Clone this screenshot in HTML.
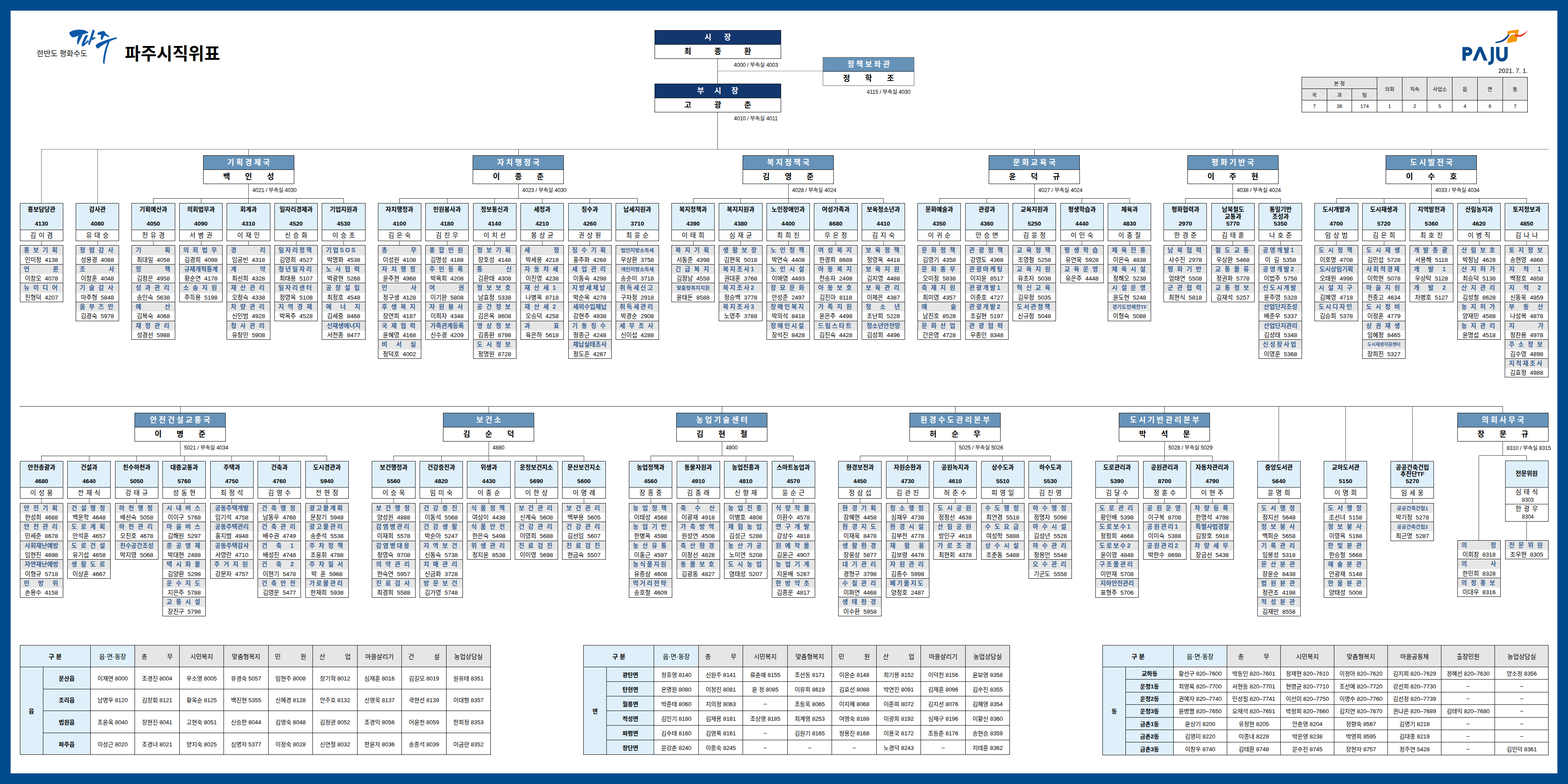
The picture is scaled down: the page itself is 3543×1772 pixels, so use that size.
<!DOCTYPE html><html lang="ko"><head><meta charset="utf-8"><title>파주시직위표</title><style>
html,body{margin:0;padding:0}
body{width:3543px;height:1772px;background:#004b8c;position:relative;overflow:hidden;font-family:"Liberation Sans","Noto Sans CJK KR",sans-serif;color:#000;font-size:13px}
#pg{position:absolute;left:24px;top:24px;width:3495px;height:1724px;background:#fff}
div{box-sizing:border-box}
.a,.l,.bu,.dp,.tb,.ph,svg{position:absolute}
.l{background:#444}
.bu{width:206px;height:65px;border:1px solid #111;background:#fff;overflow:hidden;text-align:center;line-height:31px;white-space:nowrap;font-size:17px;font-weight:bold}
.bu .h{height:32px;background:#6793b8;border-bottom:1px solid #111;color:#fff;letter-spacing:4.5px;padding-left:4.5px}
.bu div:last-child{letter-spacing:34px;padding-left:34px}
.bu.k div:last-child{letter-spacing:52px;padding-left:52px}
.bu.k .h{background:#12366e}
.bu.g{border-color:#666}
.ph{font-size:12px;line-height:14px;white-space:nowrap}
.dp{width:98.2px;height:85.2px;border:1px solid #1a1a1a;background:#fff;overflow:hidden;text-align:center;white-space:nowrap}
.dp .h{height:59.3px;background:#dff0fb;border-bottom:1px solid #1a1a1a;overflow:hidden;line-height:15.6px;padding-top:6px;font-size:13.6px;font-weight:bold}
.dp .c{height:24px;line-height:24px;font-size:14.4px;letter-spacing:5.6px;padding-left:5.6px}
.tb{width:98.2px;border:1px solid #1a1a1a;background:#fff;overflow:hidden;white-space:nowrap;line-height:21px;text-align:center}
.t{height:21.3px;background:#e6e6e6;color:#3a6191;font-size:13.8px;font-weight:bold}
.t2,.t3,.t4,.t5{text-align:left;padding-left:8px}
.t2{letter-spacing:53px}
.t3{letter-spacing:19.7px}
.t4{letter-spacing:8.5px}
.t5{letter-spacing:3px}
.s7{font-size:11.6px}
.s8{font-size:10.2px}
.p{height:21.3px;border-bottom:1px solid #1a1a1a;font-size:13.5px;word-spacing:4px}
.p:last-child{border-bottom:0}
table{position:absolute;border-collapse:collapse;table-layout:fixed;text-align:center;background:#fff}
td{border:1px solid #111;padding:0;overflow:hidden;white-space:nowrap;font-size:13px}
td.b{background:#dff0fb;font-weight:bold}
td.g{background:#e6e6e6;word-spacing:41px}
tr:first-child td{font-size:14px}
tr:first-child td.b+td.b{font-weight:normal}
table.sm tr td{font-size:11.5px;word-spacing:0}
</style></head><body><div id="pg"></div>
<svg style="left:0;top:0" width="700" height="200" viewBox="0 0 700 200"><text x="282" y="135" font-family="'Liberation Sans','Noto Sans CJK KR',sans-serif" font-size="39" font-weight="bold" fill="#000">파주시직위표</text><text x="83" y="127" font-family="'Liberation Sans','Noto Sans CJK KR',sans-serif" font-size="17" fill="#111">한반도 평화수도</text>
<g transform="translate(150,60) scale(.06988)" fill="#0b58a8"><path d="M100,190C150,140 280,100 420,100C560,100 680,140 715,205C700,218 660,215 620,230C560,250 480,270 400,295C330,320 260,352 210,350C170,340 130,290 100,240Z"/><path d="M400,288C370,350 345,430 345,520C345,560 360,588 382,580C400,520 440,440 500,330L530,262Z"/><path d="M630,270L705,290C655,380 595,500 548,640C522,650 495,630 488,600C518,480 575,360 630,270Z"/><path d="M540,640C600,592 665,540 728,478L700,436C640,500 580,550 515,600Z"/><path d="M850,100C880,98 910,120 915,150C880,260 820,420 752,595C730,602 710,585 705,560C760,400 810,230 850,100Z"/><path d="M835,362L955,340C930,382 890,422 825,445Z"/><path d="M1000,215C1060,170 1160,135 1220,150C1250,165 1265,200 1275,235C1320,260 1370,290 1385,320C1375,345 1350,350 1330,330C1290,300 1250,290 1215,300C1200,350 1180,410 1150,435C1125,430 1110,400 1110,360C1115,320 1130,280 1120,260C1080,265 1030,275 1010,260Z"/><path d="M950,620C960,580 1010,540 1090,510C1250,450 1450,380 1600,355C1630,355 1645,370 1640,390C1560,410 1480,440 1400,480C1300,530 1150,600 1020,715C990,710 960,670 950,620Z"/><path d="M1405,470C1335,650 1262,850 1232,1215C1215,1215 1195,1195 1185,1160C1190,950 1250,700 1335,505Z"/></g></svg>
<svg style="left:3290px;top:55px" width="180" height="100" viewBox="3290 55 180 100"><path d="M3406.5,70.5L3432,66.5L3427,93.5L3406,97.5Z" fill="#f39800"/><path d="M3379,96C3396,94 3404,86 3410,78C3416,72 3422,74 3428,78L3426,81C3420,77 3416,77 3412,82C3404,93 3395,98 3379,98Z" fill="#fff"/><path d="M3379,94.5C3394,93 3402,86 3409,77L3411,79C3404,91 3395,97 3379,97.5Z" fill="#0a4a8c"/><path d="M3423,76C3434,82 3442,78 3452,68C3446,80 3436,88 3422,80Z" fill="#e8452c"/><path d="M3327.6,137L3341,106h7L3361,137h-8.3L3344.4,116.5L3335.9,137Z" fill="#0a4a8c"/><g fill="none" stroke="#0a4a8c" stroke-width="7.6"><path d="M3308.3,137V110h8.5a6.3,6.3 0 0 1 0,12.6h-8.5"/><path d="M3372,106V136q0,7 -9,7.5" stroke-width="7"/><path d="M3384.3,106V126a9.3,9.3 0 0 0 18.6,0V106"/></g></svg>
<div class="a" style="left:3340px;top:152px;width:112px;text-align:right;font-size:14px;line-height:16px">2021. 7. 1.</div>
<table class="sm" style="left:2941px;top:174px;width:511px;height:79.5px"><colgroup><col style="width:56.7px"><col style="width:56.7px"><col style="width:56.7px"><col style="width:56.7px"><col style="width:56.7px"><col style="width:56.7px"><col style="width:56.7px"><col style="width:56.7px"><col style="width:56.7px"></colgroup><tr style="height:26px"><td class="g" colspan="3">본 청</td><td class="g" rowspan="2">의회</td><td class="g" rowspan="2">직속</td><td class="g" rowspan="2">사업소</td><td class="g" rowspan="2">읍</td><td class="g" rowspan="2">면</td><td class="g" rowspan="2">동</td></tr><tr style="height:26px"><td class="g">국</td><td class="g">과</td><td class="g">팀</td></tr><tr style="height:27px"><td>7</td><td>38</td><td>174</td><td>1</td><td>2</td><td>5</td><td>4</td><td>6</td><td>7</td></tr></table>
<div class="l" style="left:1620.9px;top:132px;width:1px;height:58px"></div>
<div class="l" style="left:1620.9px;top:253px;width:1px;height:84px"></div>
<div class="l" style="left:1621.4px;top:160.3px;width:238.6px;height:1px;background:#888"></div>
<div class="bu k" style="left:1479px;top:68px;width:285.5px"><div class="h" style="letter-spacing:28.7px;padding-left:28.7px">시장</div><div>최종환</div></div>
<div class="bu k" style="left:1479px;top:189px;width:285.5px"><div class="h" style="letter-spacing:23px;padding-left:23px">부시장</div><div>고광춘</div></div>
<div class="bu g" style="left:1859.3px;top:128.5px;width:206.5px"><div class="h">정책보좌관</div><div>정학조</div></div>
<div class="ph" style="left:1658.3px;top:140.1px">4000 / 부속실 4003</div>
<div class="ph" style="left:1658.3px;top:261.3px">4010 / 부속실 4011</div>
<div class="ph" style="left:1958.5px;top:200.7px">4115 / 부속실 4030</div>
<div class="l" style="left:93px;top:336.5px;width:3406px;height:1px;background:#777"></div>
<div class="l" style="left:93.3px;top:337px;width:1px;height:122.4px;background:#666"></div>
<div class="dp" style="left:44.7px;top:459.4px"><div class="h">홍보담당관<br><br>4130</div><div class="c">김이겸</div></div>
<div class="l" style="left:93.3px;top:544.4px;width:1px;height:10px"></div>
<div class="tb" style="left:44.7px;top:554.3px;height:128.8px"><div class="t t4">홍보기획</div><div class="p">인미정 4138</div><div class="t t2">언론</div><div class="p">이창오 4078</div><div class="t t4">뉴미디어</div><div class="p">진형덕 4207</div></div>
<div class="l" style="left:219.5px;top:337px;width:1px;height:122.4px;background:#666"></div>
<div class="dp" style="left:170.9px;top:459.4px"><div class="h">감사관<br><br>4080</div><div class="c">유대승</div></div>
<div class="l" style="left:219.5px;top:544.4px;width:1px;height:10px"></div>
<div class="tb" style="left:170.9px;top:554.3px;height:171.4px"><div class="t t4">청렴감사</div><div class="p">성용경 4088</div><div class="t t2">조사</div><div class="p">이창훈 4048</div><div class="t t4">기술감사</div><div class="p">마주형 5848</div><div class="t t4">옴부즈만</div><div class="p">김경숙 5978</div></div>
<div class="l" style="left:561.1px;top:337px;width:1px;height:14px"></div>
<div class="bu" style="left:458.6px;top:351px"><div class="h">기획경제국</div><div>백인성</div></div>
<div class="l" style="left:561.1px;top:415px;width:1px;height:33.1px"></div>
<div class="ph" style="left:570.4px;top:423px">4021 / 부속실 4030</div>
<div class="l" style="left:346.5px;top:447.6px;width:430px;height:1px;background:#333"></div>
<div class="l" style="left:346px;top:448.1px;width:1px;height:11.3px"></div>
<div class="dp" style="left:297.4px;top:459.4px"><div class="h">기획예산과<br><br>4050</div><div class="c">천유경</div></div>
<div class="l" style="left:346px;top:544.4px;width:1px;height:10px"></div>
<div class="tb" style="left:297.4px;top:554.3px;height:214px"><div class="t t2">기획</div><div class="p">최대일 4058</div><div class="t t2">정책</div><div class="p">김정은 4958</div><div class="t t4">성과관리</div><div class="p">송인숙 5638</div><div class="t t2">예산</div><div class="p">김복숙 4068</div><div class="t t4">재정관리</div><div class="p">성경선 5988</div></div>
<div class="l" style="left:453.5px;top:448.1px;width:1px;height:11.3px"></div>
<div class="dp" style="left:404.9px;top:459.4px"><div class="h">의회법무과<br><br>4090</div><div class="c">서병권</div></div>
<div class="l" style="left:453.5px;top:544.4px;width:1px;height:10px"></div>
<div class="tb" style="left:404.9px;top:554.3px;height:128.8px"><div class="t t4">의회법무</div><div class="p">김경희 4098</div><div class="t">규제개혁통계</div><div class="p">황순연 4178</div><div class="t t4">소송지원</div><div class="p">주득용 5198</div></div>
<div class="l" style="left:561px;top:448.1px;width:1px;height:11.3px"></div>
<div class="dp" style="left:512.4px;top:459.4px"><div class="h">회계과<br><br>4310</div><div class="c">이재인</div></div>
<div class="l" style="left:561px;top:544.4px;width:1px;height:10px"></div>
<div class="tb" style="left:512.4px;top:554.3px;height:214px"><div class="t t2">경리</div><div class="p">임공빈 4318</div><div class="t t2">계약</div><div class="p">최선희 4328</div><div class="t t4">재산관리</div><div class="p">오정숙 4338</div><div class="t t4">차량관리</div><div class="p">신인범 4928</div><div class="t t4">청사관리</div><div class="p">유창민 5908</div></div>
<div class="l" style="left:668.5px;top:448.1px;width:1px;height:11.3px"></div>
<div class="dp" style="left:619.9px;top:459.4px"><div class="h">일자리경제과<br><br>4520</div><div class="c">신승화</div></div>
<div class="l" style="left:668.5px;top:544.4px;width:1px;height:10px"></div>
<div class="tb" style="left:619.9px;top:554.3px;height:171.4px"><div class="t t5">일자리정책</div><div class="p">김영희 4527</div><div class="t t5">청년일자리</div><div class="p">최태용 5107</div><div class="t t5">일자리센터</div><div class="p">정영옥 5108</div><div class="t t4">지역경제</div><div class="p">박옥주 4528</div></div>
<div class="l" style="left:776px;top:448.1px;width:1px;height:11.3px"></div>
<div class="dp" style="left:727.4px;top:459.4px"><div class="h">기업지원과<br><br>4530</div><div class="c">이승조</div></div>
<div class="l" style="left:776px;top:544.4px;width:1px;height:10px"></div>
<div class="tb" style="left:727.4px;top:554.3px;height:214px"><div class="t t5">기업SOS</div><div class="p">박명화 4538</div><div class="t t4">노사협력</div><div class="p">박광현 5268</div><div class="t t4">공장설립</div><div class="p">최정호 4548</div><div class="t t3">에너지</div><div class="p">김세중 8468</div><div class="t">신재생에너지</div><div class="p">서천종 8477</div></div>
<div class="l" style="left:1170.8px;top:337px;width:1px;height:14px"></div>
<div class="bu" style="left:1068.3px;top:351px"><div class="h">자치행정국</div><div>이종춘</div></div>
<div class="l" style="left:1170.8px;top:415px;width:1px;height:33.1px"></div>
<div class="ph" style="left:1180.1px;top:423px">4023 / 부속실 4030</div>
<div class="l" style="left:902.6px;top:447.6px;width:537.5px;height:1px;background:#333"></div>
<div class="l" style="left:902.1px;top:448.1px;width:1px;height:11.3px"></div>
<div class="dp" style="left:853.5px;top:459.4px"><div class="h">자치행정과<br><br>4100</div><div class="c">김은숙</div></div>
<div class="l" style="left:902.1px;top:544.4px;width:1px;height:10px"></div>
<div class="tb" style="left:853.5px;top:554.3px;height:256.6px"><div class="t t2">총무</div><div class="p">이성원 4108</div><div class="t t4">자치행정</div><div class="p">윤주현 4968</div><div class="t t2">인사</div><div class="p">정구생 4128</div><div class="t t4">후생복지</div><div class="p">장연희 4187</div><div class="t t4">국제협력</div><div class="p">윤혜영 4168</div><div class="t t3">비서실</div><div class="p">정덕호 4002</div></div>
<div class="l" style="left:1009.6px;top:448.1px;width:1px;height:11.3px"></div>
<div class="dp" style="left:961px;top:459.4px"><div class="h">민원봉사과<br><br>4180</div><div class="c">김진우</div></div>
<div class="l" style="left:1009.6px;top:544.4px;width:1px;height:10px"></div>
<div class="tb" style="left:961px;top:554.3px;height:214px"><div class="t t4">종합민원</div><div class="p">김명성 4188</div><div class="t t4">주민등록</div><div class="p">박옥희 4208</div><div class="t t2">여권</div><div class="p">이기완 5808</div><div class="t t4">자원봉사</div><div class="p">이희자 4348</div><div class="t">가족관계등록</div><div class="p">신수경 4209</div></div>
<div class="l" style="left:1117.1px;top:448.1px;width:1px;height:11.3px"></div>
<div class="dp" style="left:1068.5px;top:459.4px"><div class="h">정보통신과<br><br>4140</div><div class="c">이치선</div></div>
<div class="l" style="left:1117.1px;top:544.4px;width:1px;height:10px"></div>
<div class="tb" style="left:1068.5px;top:554.3px;height:256.6px"><div class="t t4">정보기획</div><div class="p">장호성 4148</div><div class="t t2">통신</div><div class="p">김환태 4308</div><div class="t t4">정보보호</div><div class="p">남효정 5338</div><div class="t t4">공간정보</div><div class="p">김은옥 8608</div><div class="t t4">영상정보</div><div class="p">김종환 8798</div><div class="t t4">도시정보</div><div class="p">정명원 8728</div></div>
<div class="l" style="left:1224.6px;top:448.1px;width:1px;height:11.3px"></div>
<div class="dp" style="left:1176px;top:459.4px"><div class="h">세정과<br><br>4210</div><div class="c">봉상균</div></div>
<div class="l" style="left:1224.6px;top:544.4px;width:1px;height:10px"></div>
<div class="tb" style="left:1176px;top:554.3px;height:214px"><div class="t t2">세정</div><div class="p">박세용 4218</div><div class="t t4">자동차세</div><div class="p">이진영 4238</div><div class="t t4">재산세1</div><div class="p">나병옥 8718</div><div class="t t4">재산세2</div><div class="p">오승덕 4258</div><div class="t t2">과표</div><div class="p">육은하 5618</div></div>
<div class="l" style="left:1332.1px;top:448.1px;width:1px;height:11.3px"></div>
<div class="dp" style="left:1283.5px;top:459.4px"><div class="h">징수과<br><br>4260</div><div class="c">권상원</div></div>
<div class="l" style="left:1332.1px;top:544.4px;width:1px;height:10px"></div>
<div class="tb" style="left:1283.5px;top:554.3px;height:256.6px"><div class="t t4">징수기획</div><div class="p">홍주화 4268</div><div class="t t4">세입관리</div><div class="p">이동숙 4298</div><div class="t t5">지방세체납</div><div class="p">박순옥 4278</div><div class="t">세외수입체납</div><div class="p">강현주 4938</div><div class="t t4">기동징수</div><div class="p">정종근 4248</div><div class="t">체납실태조사</div><div class="p">정도흔 4267</div></div>
<div class="l" style="left:1439.6px;top:448.1px;width:1px;height:11.3px"></div>
<div class="dp" style="left:1391px;top:459.4px"><div class="h">납세지원과<br><br>3710</div><div class="c">최윤순</div></div>
<div class="l" style="left:1439.6px;top:544.4px;width:1px;height:10px"></div>
<div class="tb" style="left:1391px;top:554.3px;height:214px"><div class="t s7">법인지방소득세</div><div class="p">우상환 3758</div><div class="t s7">개인지방소득세</div><div class="p">송순미 3718</div><div class="t t5">취득세신고</div><div class="p">구자정 2918</div><div class="t t5">취득세관리</div><div class="p">박경순 2908</div><div class="t t4">세무조사</div><div class="p">신이섭 4288</div></div>
<div class="l" style="left:1780.5px;top:337px;width:1px;height:14px"></div>
<div class="bu" style="left:1678px;top:351px"><div class="h">복지정책국</div><div>김영준</div></div>
<div class="l" style="left:1780.5px;top:415px;width:1px;height:33.1px"></div>
<div class="ph" style="left:1789.8px;top:423px">4028 / 부속실 4024</div>
<div class="l" style="left:1566px;top:447.6px;width:430px;height:1px;background:#333"></div>
<div class="l" style="left:1565.5px;top:448.1px;width:1px;height:11.3px"></div>
<div class="dp" style="left:1516.9px;top:459.4px"><div class="h">복지정책과<br><br>4390</div><div class="c">이태희</div></div>
<div class="l" style="left:1565.5px;top:544.4px;width:1px;height:10px"></div>
<div class="tb" style="left:1516.9px;top:554.3px;height:128.8px"><div class="t t4">복지기획</div><div class="p">서동준 4398</div><div class="t t4">긴급복지</div><div class="p">김정남 4558</div><div class="t s7">맞춤형복지지원</div><div class="p">윤태돈 8588</div></div>
<div class="l" style="left:1673px;top:448.1px;width:1px;height:11.3px"></div>
<div class="dp" style="left:1624.4px;top:459.4px"><div class="h">복지지원과<br><br>4380</div><div class="c">심재균</div></div>
<div class="l" style="left:1673px;top:544.4px;width:1px;height:10px"></div>
<div class="tb" style="left:1624.4px;top:554.3px;height:171.4px"><div class="t t4">생활보장</div><div class="p">김현욱 5018</div><div class="t t5">복지조사1</div><div class="p">권대훈 3768</div><div class="t t5">복지조사2</div><div class="p">정승백 3778</div><div class="t t5">복지조사3</div><div class="p">노영주 3788</div></div>
<div class="l" style="left:1780.5px;top:448.1px;width:1px;height:11.3px"></div>
<div class="dp" style="left:1731.9px;top:459.4px"><div class="h">노인장애인과<br><br>4400</div><div class="c">최희진</div></div>
<div class="l" style="left:1780.5px;top:544.4px;width:1px;height:10px"></div>
<div class="tb" style="left:1731.9px;top:554.3px;height:214px"><div class="t t4">노인정책</div><div class="p">박연숙 4408</div><div class="t t4">노인시설</div><div class="p">이애영 4493</div><div class="t t4">장묘문화</div><div class="p">안성준 2497</div><div class="t t5">장애인복지</div><div class="p">박의석 8418</div><div class="t t5">장애인시설</div><div class="p">장석진 8428</div></div>
<div class="l" style="left:1888px;top:448.1px;width:1px;height:11.3px"></div>
<div class="dp" style="left:1839.4px;top:459.4px"><div class="h">여성가족과<br><br>8680</div><div class="c">우은정</div></div>
<div class="l" style="left:1888px;top:544.4px;width:1px;height:10px"></div>
<div class="tb" style="left:1839.4px;top:554.3px;height:214px"><div class="t t4">여성복지</div><div class="p">한경희 8688</div><div class="t t4">아동복지</div><div class="p">전송자 2498</div><div class="t t4">아동보호</div><div class="p">김진아 8118</div><div class="t t4">가족지원</div><div class="p">윤은주 4498</div><div class="t t5">드림스타트</div><div class="p">김진숙 4428</div></div>
<div class="l" style="left:1995.5px;top:448.1px;width:1px;height:11.3px"></div>
<div class="dp" style="left:1946.9px;top:459.4px"><div class="h">보육청소년과<br><br>4410</div><div class="c">김지숙</div></div>
<div class="l" style="left:1995.5px;top:544.4px;width:1px;height:10px"></div>
<div class="tb" style="left:1946.9px;top:554.3px;height:214px"><div class="t t4">보육정책</div><div class="p">정영옥 4418</div><div class="t t4">보육지원</div><div class="p">김지영 4488</div><div class="t t4">보육관리</div><div class="p">이제은 4387</div><div class="t t3">청소년</div><div class="p">조난희 5228</div><div class="t">청소년안전망</div><div class="p">김성희 4496</div></div>
<div class="l" style="left:2336.7px;top:337px;width:1px;height:14px"></div>
<div class="bu" style="left:2234.2px;top:351px"><div class="h">문화교육국</div><div>윤덕규</div></div>
<div class="l" style="left:2336.7px;top:415px;width:1px;height:33.1px"></div>
<div class="ph" style="left:2346px;top:423px">4027 / 부속실 4024</div>
<div class="l" style="left:2122.3px;top:447.6px;width:430px;height:1px;background:#333"></div>
<div class="l" style="left:2121.8px;top:448.1px;width:1px;height:11.3px"></div>
<div class="dp" style="left:2073.2px;top:459.4px"><div class="h">문화예술과<br><br>4350</div><div class="c">이귀순</div></div>
<div class="l" style="left:2121.8px;top:544.4px;width:1px;height:10px"></div>
<div class="tb" style="left:2073.2px;top:554.3px;height:214px"><div class="t t4">문화정책</div><div class="p">김영기 4358</div><div class="t t4">문화종무</div><div class="p">오미정 5838</div><div class="t t4">축제지원</div><div class="p">최미영 4357</div><div class="t t2">예술</div><div class="p">남진호 8528</div><div class="t t4">문화산업</div><div class="p">간은영 4728</div></div>
<div class="l" style="left:2229.3px;top:448.1px;width:1px;height:11.3px"></div>
<div class="dp" style="left:2180.7px;top:459.4px"><div class="h">관광과<br><br>4360</div><div class="c">안승면</div></div>
<div class="l" style="left:2229.3px;top:544.4px;width:1px;height:10px"></div>
<div class="tb" style="left:2180.7px;top:554.3px;height:214px"><div class="t t4">관광정책</div><div class="p">강영도 4368</div><div class="t t5">관광마케팅</div><div class="p">이지윤 8517</div><div class="t t5">관광개발1</div><div class="p">이종호 4727</div><div class="t t5">관광개발2</div><div class="p">조길현 5197</div><div class="t t4">관광협력</div><div class="p">우종인 8348</div></div>
<div class="l" style="left:2336.8px;top:448.1px;width:1px;height:11.3px"></div>
<div class="dp" style="left:2288.2px;top:459.4px"><div class="h">교육지원과<br><br>5250</div><div class="c">김윤정</div></div>
<div class="l" style="left:2336.8px;top:544.4px;width:1px;height:10px"></div>
<div class="tb" style="left:2288.2px;top:554.3px;height:171.4px"><div class="t t4">교육정책</div><div class="p">조영철 5258</div><div class="t t4">교육지원</div><div class="p">유초자 5038</div><div class="t t4">혁신교육</div><div class="p">김우정 5035</div><div class="t t5">도서관정책</div><div class="p">신규정 5048</div></div>
<div class="l" style="left:2444.3px;top:448.1px;width:1px;height:11.3px"></div>
<div class="dp" style="left:2395.7px;top:459.4px"><div class="h">평생학습과<br><br>4440</div><div class="c">이인숙</div></div>
<div class="l" style="left:2444.3px;top:544.4px;width:1px;height:10px"></div>
<div class="tb" style="left:2395.7px;top:554.3px;height:86.2px"><div class="t t4">평생학습</div><div class="p">유연욱 5928</div><div class="t t4">교육운영</div><div class="p">유은주 4448</div></div>
<div class="l" style="left:2551.8px;top:448.1px;width:1px;height:11.3px"></div>
<div class="dp" style="left:2503.2px;top:459.4px"><div class="h">체육과<br><br>4830</div><div class="c">이종칠</div></div>
<div class="l" style="left:2551.8px;top:544.4px;width:1px;height:10px"></div>
<div class="tb" style="left:2503.2px;top:554.3px;height:171.4px"><div class="t t4">체육진흥</div><div class="p">이은숙 4838</div><div class="t t4">체육시설</div><div class="p">정해오 5238</div><div class="t t4">시설운영</div><div class="p">윤도현 5248</div><div class="t s7">경기도민체전TF</div><div class="p">이형숙 5088</div></div>
<div class="l" style="left:2785.1px;top:337px;width:1px;height:14px"></div>
<div class="bu" style="left:2682.6px;top:351px"><div class="h">평화기반국</div><div>이주현</div></div>
<div class="l" style="left:2785.1px;top:415px;width:1px;height:33.1px"></div>
<div class="ph" style="left:2794.4px;top:423px">4038 / 부속실 4024</div>
<div class="l" style="left:2678.4px;top:447.6px;width:215px;height:1px;background:#333"></div>
<div class="l" style="left:2677.9px;top:448.1px;width:1px;height:11.3px"></div>
<div class="dp" style="left:2629.3px;top:459.4px"><div class="h">평화협력과<br><br>2970</div><div class="c">한경준</div></div>
<div class="l" style="left:2677.9px;top:544.4px;width:1px;height:10px"></div>
<div class="tb" style="left:2629.3px;top:554.3px;height:128.8px"><div class="t t4">남북협력</div><div class="p">사수진 2978</div><div class="t t4">평화기반</div><div class="p">엄태연 5508</div><div class="t t4">군관협력</div><div class="p">최현식 5818</div></div>
<div class="l" style="left:2785.4px;top:448.1px;width:1px;height:11.3px"></div>
<div class="dp" style="left:2736.8px;top:459.4px"><div class="h">남북철도<br>교통과<br>5770</div><div class="c">김태훈</div></div>
<div class="l" style="left:2785.4px;top:544.4px;width:1px;height:10px"></div>
<div class="tb" style="left:2736.8px;top:554.3px;height:128.8px"><div class="t t4">철도교통</div><div class="p">우상완 5468</div><div class="t t4">교통물류</div><div class="p">정권화 5778</div><div class="t t4">교통정보</div><div class="p">김재석 5257</div></div>
<div class="l" style="left:2892.9px;top:448.1px;width:1px;height:11.3px"></div>
<div class="dp" style="left:2844.3px;top:459.4px"><div class="h">통일기반<br>조성과<br>5350</div><div class="c">나호준</div></div>
<div class="l" style="left:2892.9px;top:544.4px;width:1px;height:10px"></div>
<div class="tb" style="left:2844.3px;top:554.3px;height:256.6px"><div class="t t5">공영개발1</div><div class="p">이 길 5358</div><div class="t t5">공영개발2</div><div class="p">이법주 5758</div><div class="t t5">신도시개발</div><div class="p">윤주영 5328</div><div class="t">산업단지조성</div><div class="p">배준우 5337</div><div class="t">산업단지관리</div><div class="p">김성태 5348</div><div class="t t5">신성장사업</div><div class="p">이영훈 5368</div></div>
<div class="l" style="left:3233.9px;top:337px;width:1px;height:14px"></div>
<div class="bu" style="left:3131.4px;top:351px"><div class="h">도시발전국</div><div>이수호</div></div>
<div class="l" style="left:3233.9px;top:415px;width:1px;height:33.1px"></div>
<div class="ph" style="left:3243.2px;top:423px">4033 / 부속실 4034</div>
<div class="l" style="left:3019.5px;top:447.6px;width:430px;height:1px;background:#333"></div>
<div class="l" style="left:3019px;top:448.1px;width:1px;height:11.3px"></div>
<div class="dp" style="left:2970.4px;top:459.4px"><div class="h">도시개발과<br><br>4700</div><div class="c">임상범</div></div>
<div class="l" style="left:3019px;top:544.4px;width:1px;height:10px"></div>
<div class="tb" style="left:2970.4px;top:554.3px;height:171.4px"><div class="t t4">도시정책</div><div class="p">이호명 4708</div><div class="t">도시상임기획</div><div class="p">오태원 4998</div><div class="t t4">시설지구</div><div class="p">김혜영 4718</div><div class="t t5">도시디자인</div><div class="p">김승희 5378</div></div>
<div class="l" style="left:3126.5px;top:448.1px;width:1px;height:11.3px"></div>
<div class="dp" style="left:3077.9px;top:459.4px"><div class="h">도시재생과<br><br>5720</div><div class="c">김은희</div></div>
<div class="l" style="left:3126.5px;top:544.4px;width:1px;height:10px"></div>
<div class="tb" style="left:3077.9px;top:554.3px;height:256.6px"><div class="t t4">도시재생</div><div class="p">김민섭 5728</div><div class="t t5">사회적경제</div><div class="p">이학현 5078</div><div class="t t4">마을지원</div><div class="p">전종고 4634</div><div class="t t4">도시정비</div><div class="p">이정훈 4779</div><div class="t t4">상권재생</div><div class="p">임혜정 8465</div><div class="t s8">도시재생지원센터</div><div class="p">장희진 5327</div></div>
<div class="l" style="left:3234px;top:448.1px;width:1px;height:11.3px"></div>
<div class="dp" style="left:3185.4px;top:459.4px"><div class="h">지역발전과<br><br>5360</div><div class="c">최호진</div></div>
<div class="l" style="left:3234px;top:544.4px;width:1px;height:10px"></div>
<div class="tb" style="left:3185.4px;top:554.3px;height:128.8px"><div class="t t4">개발총괄</div><div class="p">서용해 5118</div><div class="t t3">개발1</div><div class="p">우상탁 5128</div><div class="t t3">개발2</div><div class="p">차병호 5127</div></div>
<div class="l" style="left:3341.5px;top:448.1px;width:1px;height:11.3px"></div>
<div class="dp" style="left:3292.9px;top:459.4px"><div class="h">산림농지과<br><br>4620</div><div class="c">이병직</div></div>
<div class="l" style="left:3341.5px;top:544.4px;width:1px;height:10px"></div>
<div class="tb" style="left:3292.9px;top:554.3px;height:214px"><div class="t t4">산림보호</div><div class="p">박정남 4628</div><div class="t t4">산지허가</div><div class="p">최승덕 5138</div><div class="t t4">산지관리</div><div class="p">김성철 8628</div><div class="t t4">농지허가</div><div class="p">양재민 4588</div><div class="t t4">농지관리</div><div class="p">윤명섭 4518</div></div>
<div class="l" style="left:3449px;top:448.1px;width:1px;height:11.3px"></div>
<div class="dp" style="left:3400.4px;top:459.4px"><div class="h">토지정보과<br><br>4850</div><div class="c">김나나</div></div>
<div class="l" style="left:3449px;top:544.4px;width:1px;height:10px"></div>
<div class="tb" style="left:3400.4px;top:554.3px;height:299.2px"><div class="t t4">토지정보</div><div class="p">송현영 4868</div><div class="t t3">지적1</div><div class="p">백정호 4858</div><div class="t t3">지적2</div><div class="p">신동욱 4859</div><div class="t t3">부동산</div><div class="p">나성복 4878</div><div class="t t2">지가</div><div class="p">정찬용 4978</div><div class="t t4">주소정보</div><div class="p">김수영 4898</div><div class="t t5">지적재조사</div><div class="p">김효정 4988</div></div>
<div class="l" style="left:44px;top:917.7px;width:3352px;height:1px;background:#333"></div>
<div class="l" style="left:406.7px;top:918.2px;width:1px;height:14.8px"></div>
<div class="bu" style="left:303.9px;top:933px"><div class="h">안전건설교통국</div><div>이병준</div></div>
<div class="l" style="left:406.7px;top:997px;width:1px;height:33.3px"></div>
<div class="ph" style="left:416px;top:1005px">5021 / 부속실 4034</div>
<div class="l" style="left:93.8px;top:1029.8px;width:645px;height:1px;background:#333"></div>
<div class="l" style="left:93.3px;top:1030.3px;width:1px;height:11.3px"></div>
<div class="dp" style="left:44.7px;top:1041.6px"><div class="h">안전총괄과<br><br>4680</div><div class="c">이성용</div></div>
<div class="l" style="left:93.3px;top:1126.6px;width:1px;height:10px"></div>
<div class="tb" style="left:44.7px;top:1136.5px;height:214px"><div class="t t4">안전기획</div><div class="p">한성희 4688</div><div class="t t4">안전관리</div><div class="p">민세준 8678</div><div class="t">사회재난예방</div><div class="p">임현진 4698</div><div class="t">자연재난예방</div><div class="p">이형규 5718</div><div class="t t3">민방위</div><div class="p">손용수 4158</div></div>
<div class="l" style="left:200.8px;top:1030.3px;width:1px;height:11.3px"></div>
<div class="dp" style="left:152.2px;top:1041.6px"><div class="h">건설과<br><br>4640</div><div class="c">전재식</div></div>
<div class="l" style="left:200.8px;top:1126.6px;width:1px;height:10px"></div>
<div class="tb" style="left:152.2px;top:1136.5px;height:171.4px"><div class="t t4">건설행정</div><div class="p">백운학 4648</div><div class="t t4">도로계획</div><div class="p">안석훈 4657</div><div class="t t4">도로건설</div><div class="p">유기섭 4658</div><div class="t t4">생활도로</div><div class="p">이상훈 4667</div></div>
<div class="l" style="left:308.3px;top:1030.3px;width:1px;height:11.3px"></div>
<div class="dp" style="left:259.7px;top:1041.6px"><div class="h">친수하천과<br><br>5050</div><div class="c">강태규</div></div>
<div class="l" style="left:308.3px;top:1126.6px;width:1px;height:10px"></div>
<div class="tb" style="left:259.7px;top:1136.5px;height:128.8px"><div class="t t4">하천행정</div><div class="p">배선숙 5058</div><div class="t t4">하천관리</div><div class="p">오진호 4678</div><div class="t">친수공간조성</div><div class="p">박지영 5068</div></div>
<div class="l" style="left:415.8px;top:1030.3px;width:1px;height:11.3px"></div>
<div class="dp" style="left:367.2px;top:1041.6px"><div class="h">대중교통과<br><br>5760</div><div class="c">성동현</div></div>
<div class="l" style="left:415.8px;top:1126.6px;width:1px;height:10px"></div>
<div class="tb" style="left:367.2px;top:1136.5px;height:256.6px"><div class="t t4">시내버스</div><div class="p">이이구 5768</div><div class="t t4">마을버스</div><div class="p">김해원 5297</div><div class="t t4">준공영제</div><div class="p">박대현 2488</div><div class="t t4">택시화물</div><div class="p">김양환 5298</div><div class="t t4">운수지도</div><div class="p">지은주 5788</div><div class="t t4">교통시설</div><div class="p">장진구 5798</div></div>
<div class="l" style="left:523.3px;top:1030.3px;width:1px;height:11.3px"></div>
<div class="dp" style="left:474.7px;top:1041.6px"><div class="h">주택과<br><br>4750</div><div class="c">최정석</div></div>
<div class="l" style="left:523.3px;top:1126.6px;width:1px;height:10px"></div>
<div class="tb" style="left:474.7px;top:1136.5px;height:171.4px"><div class="t">공동주택개발</div><div class="p">임기석 4758</div><div class="t">공동주택관리</div><div class="p">홍지범 4948</div><div class="t">공동주택감사</div><div class="p">서영란 4710</div><div class="t t4">주거지원</div><div class="p">강문자 4757</div></div>
<div class="l" style="left:630.8px;top:1030.3px;width:1px;height:11.3px"></div>
<div class="dp" style="left:582.2px;top:1041.6px"><div class="h">건축과<br><br>4760</div><div class="c">김영수</div></div>
<div class="l" style="left:630.8px;top:1126.6px;width:1px;height:10px"></div>
<div class="tb" style="left:582.2px;top:1136.5px;height:214px"><div class="t t4">건축행정</div><div class="p">남동우 4768</div><div class="t t4">건축관리</div><div class="p">배수권 4749</div><div class="t t3">건축1</div><div class="p">배성진 4748</div><div class="t t3">건축2</div><div class="p">이현기 5478</div><div class="t t4">건축안전</div><div class="p">김영운 5477</div></div>
<div class="l" style="left:738.3px;top:1030.3px;width:1px;height:11.3px"></div>
<div class="dp" style="left:689.7px;top:1041.6px"><div class="h">도시경관과<br><br>5940</div><div class="c">전현정</div></div>
<div class="l" style="left:738.3px;top:1126.6px;width:1px;height:10px"></div>
<div class="tb" style="left:689.7px;top:1136.5px;height:214px"><div class="t t5">광고물계획</div><div class="p">문창기 5948</div><div class="t t5">광고물관리</div><div class="p">송춘석 5538</div><div class="t t4">주차정책</div><div class="p">조웅휘 4788</div><div class="t t4">주차질서</div><div class="p">박 훈 5968</div><div class="t t5">가로물관리</div><div class="p">한재희 5938</div></div>
<div class="l" style="left:1103.8px;top:918.2px;width:1px;height:14.8px"></div>
<div class="bu" style="left:1001.3px;top:933px"><div class="h">보건소</div><div>김순덕</div></div>
<div class="l" style="left:1103.8px;top:997px;width:1px;height:33.3px"></div>
<div class="ph" style="left:1113.1px;top:1005px">4880</div>
<div class="l" style="left:889.5px;top:1029.8px;width:430px;height:1px;background:#333"></div>
<div class="l" style="left:889px;top:1030.3px;width:1px;height:11.3px"></div>
<div class="dp" style="left:840.4px;top:1041.6px"><div class="h">보건행정과<br><br>5560</div><div class="c">이승욱</div></div>
<div class="l" style="left:889px;top:1126.6px;width:1px;height:10px"></div>
<div class="tb" style="left:840.4px;top:1136.5px;height:214px"><div class="t t4">보건행정</div><div class="p">양성원 4888</div><div class="t t5">감염병관리</div><div class="p">이재희 5578</div><div class="t t5">감염병대응</div><div class="p">정영숙 9708</div><div class="t t4">의약관리</div><div class="p">한숙연 5957</div><div class="t t4">진료검사</div><div class="p">최경희 5588</div></div>
<div class="l" style="left:996.5px;top:1030.3px;width:1px;height:11.3px"></div>
<div class="dp" style="left:947.9px;top:1041.6px"><div class="h">건강증진과<br><br>4820</div><div class="c">임미숙</div></div>
<div class="l" style="left:996.5px;top:1126.6px;width:1px;height:10px"></div>
<div class="tb" style="left:947.9px;top:1136.5px;height:214px"><div class="t t4">건강증진</div><div class="p">이동석 5568</div><div class="t t4">건강생활</div><div class="p">박순아 5247</div><div class="t t4">지역보건</div><div class="p">신동숙 5738</div><div class="t t4">치매관리</div><div class="p">신금화 3728</div><div class="t t4">방문보건</div><div class="p">김가영 5748</div></div>
<div class="l" style="left:1104px;top:1030.3px;width:1px;height:11.3px"></div>
<div class="dp" style="left:1055.4px;top:1041.6px"><div class="h">위생과<br><br>4430</div><div class="c">이종순</div></div>
<div class="l" style="left:1104px;top:1126.6px;width:1px;height:10px"></div>
<div class="tb" style="left:1055.4px;top:1136.5px;height:128.8px"><div class="t t4">식품정책</div><div class="p">여상미 4438</div><div class="t t4">식품안전</div><div class="p">한은숙 5498</div><div class="t t4">위생관리</div><div class="p">정지윤 8538</div></div>
<div class="l" style="left:1211.5px;top:1030.3px;width:1px;height:11.3px"></div>
<div class="dp" style="left:1162.9px;top:1041.6px"><div class="h">운정보건지소<br><br>5690</div><div class="c">이한상</div></div>
<div class="l" style="left:1211.5px;top:1126.6px;width:1px;height:10px"></div>
<div class="tb" style="left:1162.9px;top:1136.5px;height:128.8px"><div class="t t4">보건관리</div><div class="p">신계숙 5608</div><div class="t t4">건강관리</div><div class="p">이영희 5688</div><div class="t t4">진료검진</div><div class="p">이미영 5698</div></div>
<div class="l" style="left:1319px;top:1030.3px;width:1px;height:11.3px"></div>
<div class="dp" style="left:1270.4px;top:1041.6px"><div class="h">문산보건지소<br><br>5600</div><div class="c">이명례</div></div>
<div class="l" style="left:1319px;top:1126.6px;width:1px;height:10px"></div>
<div class="tb" style="left:1270.4px;top:1136.5px;height:128.8px"><div class="t t4">보건관리</div><div class="p">백부용 5605</div><div class="t t4">건강관리</div><div class="p">김선임 5607</div><div class="t t4">진료검진</div><div class="p">현금숙 5507</div></div>
<div class="l" style="left:1630.6px;top:918.2px;width:1px;height:14.8px"></div>
<div class="bu" style="left:1528.1px;top:933px"><div class="h">농업기술센터</div><div>김현철</div></div>
<div class="l" style="left:1630.6px;top:997px;width:1px;height:33.3px"></div>
<div class="ph" style="left:1639.9px;top:1005px">4900</div>
<div class="l" style="left:1470.1px;top:1029.8px;width:322.5px;height:1px;background:#333"></div>
<div class="l" style="left:1469.6px;top:1030.3px;width:1px;height:11.3px"></div>
<div class="dp" style="left:1421px;top:1041.6px"><div class="h">농업정책과<br><br>4560</div><div class="c">장흥중</div></div>
<div class="l" style="left:1469.6px;top:1126.6px;width:1px;height:10px"></div>
<div class="tb" style="left:1421px;top:1136.5px;height:214px"><div class="t t4">농업정책</div><div class="p">이태성 4568</div><div class="t t4">농업기반</div><div class="p">한병옥 4598</div><div class="t t4">농산유통</div><div class="p">이홍근 4597</div><div class="t t5">농식품지원</div><div class="p">유종삼 4608</div><div class="t t5">먹거리전략</div><div class="p">송호철 4609</div></div>
<div class="l" style="left:1577.1px;top:1030.3px;width:1px;height:11.3px"></div>
<div class="dp" style="left:1528.5px;top:1041.6px"><div class="h">동물자원과<br><br>4910</div><div class="c">김종래</div></div>
<div class="l" style="left:1577.1px;top:1126.6px;width:1px;height:10px"></div>
<div class="tb" style="left:1528.5px;top:1136.5px;height:171.4px"><div class="t t3">축수산</div><div class="p">이광재 4918</div><div class="t t4">가축방역</div><div class="p">원성연 4508</div><div class="t t4">축산환경</div><div class="p">이정선 4828</div><div class="t t4">동물보호</div><div class="p">김광동 4827</div></div>
<div class="l" style="left:1684.6px;top:1030.3px;width:1px;height:11.3px"></div>
<div class="dp" style="left:1636px;top:1041.6px"><div class="h">농업진흥과<br><br>4810</div><div class="c">신향재</div></div>
<div class="l" style="left:1684.6px;top:1126.6px;width:1px;height:10px"></div>
<div class="tb" style="left:1636px;top:1136.5px;height:171.4px"><div class="t t4">농업진흥</div><div class="p">이병호 4808</div><div class="t t4">체험농업</div><div class="p">김성근 5288</div><div class="t t4">농산가공</div><div class="p">노미연 5208</div><div class="t t4">도시농업</div><div class="p">염태성 5207</div></div>
<div class="l" style="left:1792.1px;top:1030.3px;width:1px;height:11.3px"></div>
<div class="dp" style="left:1743.5px;top:1041.6px"><div class="h">스마트농업과<br><br>4570</div><div class="c">윤순근</div></div>
<div class="l" style="left:1792.1px;top:1126.6px;width:1px;height:10px"></div>
<div class="tb" style="left:1743.5px;top:1136.5px;height:214px"><div class="t t4">식량작물</div><div class="p">이환수 4578</div><div class="t t4">연구개발</div><div class="p">강상수 4818</div><div class="t t4">원예작물</div><div class="p">김윤근 4907</div><div class="t t4">농업기계</div><div class="p">지윤배 5267</div><div class="t t4">한방약초</div><div class="p">김종운 4817</div></div>
<div class="l" style="left:2157.5px;top:918.2px;width:1px;height:14.8px"></div>
<div class="bu" style="left:2055px;top:933px"><div class="h">환경수도관리본부</div><div>허순무</div></div>
<div class="l" style="left:2157.5px;top:997px;width:1px;height:33.3px"></div>
<div class="ph" style="left:2166.8px;top:1005px">5025 / 부속실 5026</div>
<div class="l" style="left:1943.3px;top:1029.8px;width:430px;height:1px;background:#333"></div>
<div class="l" style="left:1942.8px;top:1030.3px;width:1px;height:11.3px"></div>
<div class="dp" style="left:1894.2px;top:1041.6px"><div class="h">환경보전과<br><br>4450</div><div class="c">정삼섭</div></div>
<div class="l" style="left:1942.8px;top:1126.6px;width:1px;height:10px"></div>
<div class="tb" style="left:1894.2px;top:1136.5px;height:256.6px"><div class="t t4">환경기획</div><div class="p">장혜현 4458</div><div class="t t4">환경지도</div><div class="p">이재욱 8478</div><div class="t t4">생활환경</div><div class="p">장웅상 5877</div><div class="t t4">대기관리</div><div class="p">경형구 3798</div><div class="t t4">수질관리</div><div class="p">이화연 4468</div><div class="t t4">생태환경</div><div class="p">이수환 5958</div></div>
<div class="l" style="left:2050.3px;top:1030.3px;width:1px;height:11.3px"></div>
<div class="dp" style="left:2001.7px;top:1041.6px"><div class="h">자원순환과<br><br>4730</div><div class="c">김관진</div></div>
<div class="l" style="left:2050.3px;top:1126.6px;width:1px;height:10px"></div>
<div class="tb" style="left:2001.7px;top:1136.5px;height:214px"><div class="t t4">청소행정</div><div class="p">심재우 4738</div><div class="t t4">환경시설</div><div class="p">김부전 4778</div><div class="t t3">재활용</div><div class="p">김보령 4478</div><div class="t t4">자원관리</div><div class="p">김종수 5998</div><div class="t t5">폐기물지도</div><div class="p">양정호 2487</div></div>
<div class="l" style="left:2157.8px;top:1030.3px;width:1px;height:11.3px"></div>
<div class="dp" style="left:2109.2px;top:1041.6px"><div class="h">공원녹지과<br><br>4610</div><div class="c">허준수</div></div>
<div class="l" style="left:2157.8px;top:1126.6px;width:1px;height:10px"></div>
<div class="tb" style="left:2109.2px;top:1136.5px;height:128.8px"><div class="t t4">도시공원</div><div class="p">정정선 4638</div><div class="t t4">산림공원</div><div class="p">방인구 4618</div><div class="t t4">가로조경</div><div class="p">최현회 4378</div></div>
<div class="l" style="left:2265.3px;top:1030.3px;width:1px;height:11.3px"></div>
<div class="dp" style="left:2216.7px;top:1041.6px"><div class="h">상수도과<br><br>5510</div><div class="c">피영일</div></div>
<div class="l" style="left:2265.3px;top:1126.6px;width:1px;height:10px"></div>
<div class="tb" style="left:2216.7px;top:1136.5px;height:128.8px"><div class="t t4">수도행정</div><div class="p">최연경 5518</div><div class="t t4">수도요금</div><div class="p">여성학 5888</div><div class="t t4">상수시설</div><div class="p">조춘동 5488</div></div>
<div class="l" style="left:2372.8px;top:1030.3px;width:1px;height:11.3px"></div>
<div class="dp" style="left:2324.2px;top:1041.6px"><div class="h">하수도과<br><br>5530</div><div class="c">김진영</div></div>
<div class="l" style="left:2372.8px;top:1126.6px;width:1px;height:10px"></div>
<div class="tb" style="left:2324.2px;top:1136.5px;height:171.4px"><div class="t t4">하수행정</div><div class="p">정명자 5098</div><div class="t t4">하수시설</div><div class="p">김성년 5528</div><div class="t t4">하수관리</div><div class="p">정용언 5548</div><div class="t t4">오수관리</div><div class="p">기군도 5558</div></div>
<div class="l" style="left:2630.8px;top:918.2px;width:1px;height:14.8px"></div>
<div class="bu" style="left:2528.4px;top:933px"><div class="h">도시기반관리본부</div><div>박석문</div></div>
<div class="l" style="left:2630.8px;top:997px;width:1px;height:33.3px"></div>
<div class="ph" style="left:2640.1px;top:1005px">5028 / 부속실 5029</div>
<div class="l" style="left:2524.1px;top:1029.8px;width:215px;height:1px;background:#333"></div>
<div class="l" style="left:2523.6px;top:1030.3px;width:1px;height:11.3px"></div>
<div class="dp" style="left:2475px;top:1041.6px"><div class="h">도로관리과<br><br>5390</div><div class="c">김달수</div></div>
<div class="l" style="left:2523.6px;top:1126.6px;width:1px;height:10px"></div>
<div class="tb" style="left:2475px;top:1136.5px;height:214px"><div class="t t4">도로관리</div><div class="p">황인배 5398</div><div class="t t5">도로보수1</div><div class="p">정정희 4668</div><div class="t t5">도로보수2</div><div class="p">윤이영 4848</div><div class="t t5">구조물관리</div><div class="p">이만재 5708</div><div class="t">지하안전관리</div><div class="p">표형주 5706</div></div>
<div class="l" style="left:2631.1px;top:1030.3px;width:1px;height:11.3px"></div>
<div class="dp" style="left:2582.5px;top:1041.6px"><div class="h">공원관리과<br><br>8700</div><div class="c">정훈수</div></div>
<div class="l" style="left:2631.1px;top:1126.6px;width:1px;height:10px"></div>
<div class="tb" style="left:2582.5px;top:1136.5px;height:128.8px"><div class="t t4">공원운영</div><div class="p">이구복 8708</div><div class="t t5">공원관리1</div><div class="p">이미숙 5388</div><div class="t t5">공원관리2</div><div class="p">박한수 8698</div></div>
<div class="l" style="left:2738.6px;top:1030.3px;width:1px;height:11.3px"></div>
<div class="dp" style="left:2690px;top:1041.6px"><div class="h">자동차관리과<br><br>4790</div><div class="c">이현주</div></div>
<div class="l" style="left:2738.6px;top:1126.6px;width:1px;height:10px"></div>
<div class="tb" style="left:2690px;top:1136.5px;height:128.8px"><div class="t t4">차량등록</div><div class="p">한명석 4798</div><div class="t">특별사법경찰</div><div class="p">김창호 5918</div><div class="t t4">차량세무</div><div class="p">장금선 5438</div></div>
<div class="l" style="left:2889.2px;top:918.2px;width:1px;height:123.4px;background:#555"></div>
<div class="dp" style="left:2840.6px;top:1041.6px"><div class="h">중앙도서관<br><br>5640</div><div class="c">윤명희</div></div>
<div class="l" style="left:2889.2px;top:1126.6px;width:1px;height:10px"></div>
<div class="tb" style="left:2840.6px;top:1136.5px;height:256.6px"><div class="t t4">도서행정</div><div class="p">정지선 5648</div><div class="t t4">정보봉사</div><div class="p">백희순 5658</div><div class="t t4">기록관리</div><div class="p">임봉성 5318</div><div class="t t4">문산분관</div><div class="p">장윤순 8438</div><div class="t t4">법원분관</div><div class="p">정관조 4198</div><div class="t t4">적성분관</div><div class="p">김재만 8558</div></div>
<div class="l" style="left:3039.9px;top:918.2px;width:1px;height:123.4px;background:#555"></div>
<div class="dp" style="left:2991.3px;top:1041.6px"><div class="h">교하도서관<br><br>5150</div><div class="c">이명희</div></div>
<div class="l" style="left:3039.9px;top:1126.6px;width:1px;height:10px"></div>
<div class="tb" style="left:2991.3px;top:1136.5px;height:214px"><div class="t t4">도서행정</div><div class="p">조선녀 5158</div><div class="t t4">정보봉사</div><div class="p">이영옥 5168</div><div class="t t4">한빛분관</div><div class="p">한승철 5668</div><div class="t t4">해솔분관</div><div class="p">안광재 5148</div><div class="t t4">한울분관</div><div class="p">양태성 5008</div></div>
<div class="l" style="left:3190.9px;top:918.2px;width:1px;height:123.4px;background:#555"></div>
<div class="dp" style="left:3142.3px;top:1041.6px"><div class="h">공공건축건립<br>추진단TF<br>5270</div><div class="c">임세웅</div></div>
<div class="l" style="left:3190.9px;top:1126.6px;width:1px;height:10px"></div>
<div class="tb" style="left:3142.3px;top:1136.5px;height:86.2px"><div class="t s7">공공건축건립1</div><div class="p">박기정 5278</div><div class="t s7">공공건축건립2</div><div class="p">최근명 5287</div></div>
<div class="l" style="left:3395.4px;top:918.2px;width:1px;height:15.2px"></div>
<div class="bu" style="left:3293px;top:933px"><div class="h">의회사무국</div><div>장문규</div></div>
<div class="ph" style="left:3404.6px;top:1005.6px">8310 / 부속실 8315</div>
<div class="l" style="left:3395.4px;top:997px;width:1px;height:32.7px"></div>
<div class="l" style="left:3341.9px;top:1029.2px;width:107.5px;height:1px"></div>
<div class="l" style="left:3341.4px;top:1029.7px;width:1px;height:191.3px"></div>
<div class="l" style="left:3448.9px;top:1029.7px;width:1px;height:11.3px"></div>
<div class="dp" style="left:3400.5px;top:1040.9px;height:138px"><div class="h" style="height:59.8px;line-height:45px">전문위원</div><div class="c" style="height:38.5px;border-bottom:1px solid #1a1a1a;line-height:17px;padding-top:2px">심태식<br><span style="letter-spacing:0;font-size:12px">8303</span></div><div class="c" style="height:38.5px;line-height:17px;padding-top:2px">한광우<br><span style="letter-spacing:0;font-size:12px">8304</span></div></div>
<div class="l" style="left:3448.9px;top:1178px;width:1px;height:43px"></div>
<div class="tb" style="left:3293px;top:1220.7px;height:128.8px"><div class="t t2">의정</div><div class="p">이희창 8318</div><div class="t t2">의사</div><div class="p">한민희 8328</div><div class="t t4">의정홍보</div><div class="p">이대우 8316</div></div>
<div class="tb" style="left:3400.5px;top:1220.7px;height:43.6px"><div class="t t4">전문위원</div><div class="p">조우현 8305</div></div>
<table style="left:44.5px;top:1457.5px;width:1063.3px"><colgroup><col style="width:52.1px"><col style="width:107.2px"><col style="width:100.5px"><col style="width:100.5px"><col style="width:100.5px"><col style="width:100.5px"><col style="width:100.5px"><col style="width:100.5px"><col style="width:100.5px"><col style="width:100.5px"><col style="width:100.5px"></colgroup><tr style="height:49.6px"><td class="b" colspan="2">구 분</td><td class="b">읍·면·동장</td><td class="g">총 무</td><td class="g">시민복지</td><td class="g">맞춤형복지</td><td class="g">민 원</td><td class="g">산 업</td><td class="g">마을살리기</td><td class="g">건 설</td><td class="g">농업상담실</td></tr><tr style="height:49.6px"><td class="b" rowspan="4">읍</td><td class="b">문산읍</td><td>이재면 8000</td><td>조경진 8004</td><td>우소영 8005</td><td>유경숙 5057</td><td>임현주 8008</td><td>장기혁 8012</td><td>심재훈 8016</td><td>김길모 8019</td><td>원유태 8351</td></tr><tr style="height:49.6px"><td class="b">조리읍</td><td>남명우 8120</td><td>김장회 8121</td><td>황옥순 8125</td><td>백진현 5355</td><td>신혜경 8128</td><td>안주호 8132</td><td>신영욱 8137</td><td>곽현선 8139</td><td>이대형 8357</td></tr><tr style="height:49.6px"><td class="b">법원읍</td><td>조윤옥 8040</td><td>장현진 8041</td><td>고현숙 8051</td><td>신승한 8044</td><td>김영숙 8048</td><td>김정광 8052</td><td>조경익 8056</td><td>어윤천 8059</td><td>한희정 8353</td></tr><tr style="height:49.6px"><td class="b">파주읍</td><td>이성근 8020</td><td>조경녀 8021</td><td>양지숙 8025</td><td>심명자 5377</td><td>이정숙 8028</td><td>신연철 8032</td><td>한윤자 8036</td><td>송종석 8039</td><td>이금란 8352</td></tr></table>
<table style="left:1318.2px;top:1457.5px;width:962.8px"><colgroup><col style="width:52.1px"><col style="width:107.1px"><col style="width:100.5px"><col style="width:100.5px"><col style="width:100.5px"><col style="width:100.5px"><col style="width:100.5px"><col style="width:100.5px"><col style="width:100.5px"><col style="width:100.5px"></colgroup><tr style="height:49.6px"><td class="b" colspan="2">구 분</td><td class="b">읍·면·동장</td><td class="g">총 무</td><td class="g">시민복지</td><td class="g">맞춤형복지</td><td class="g">민 원</td><td class="g">산 업</td><td class="g">마을살리기</td><td class="g">농업상담실</td></tr><tr style="height:33px"><td class="b" rowspan="6">면</td><td class="b">광탄면</td><td>정휴영 8140</td><td>신원주 8141</td><td>류춘매 8155</td><td>조선동 8171</td><td>이은순 8148</td><td>최기용 8152</td><td>이덕천 8156</td><td>윤보영 8358</td></tr><tr style="height:33px"><td class="b">탄현면</td><td>온명원 8080</td><td>이정진 8081</td><td>윤 정 8085</td><td>이유희 8619</td><td>김효선 8088</td><td>박연진 8091</td><td>김재훈 8096</td><td>김수진 8355</td></tr><tr style="height:33px"><td class="b">월롱면</td><td>박준태 8060</td><td>지의정 8063</td><td>–</td><td>조동욱 8065</td><td>이지혜 8068</td><td>이준희 8072</td><td>김지선 8076</td><td>김혜영 8354</td></tr><tr style="height:33px"><td class="b">적성면</td><td>김인기 8180</td><td>김재용 8181</td><td>조상영 8185</td><td>최계영 8253</td><td>여영숙 8188</td><td>이광희 8192</td><td>심재구 8196</td><td>이황신 8360</td></tr><tr style="height:33px"><td class="b">파평면</td><td>김수태 8160</td><td>김영록 8161</td><td>–</td><td>김원기 8165</td><td>정용진 8168</td><td>이용국 8172</td><td>조동준 8176</td><td>송현승 8359</td></tr><tr style="height:33px"><td class="b">장단면</td><td>문강춘 8240</td><td>이종숙 8245</td><td>–</td><td>–</td><td>–</td><td>노경덕 8243</td><td>–</td><td>지태훈 8362</td></tr></table>
<table style="left:2491.2px;top:1457.5px;width:1007.3px"><colgroup><col style="width:52.1px"><col style="width:107.5px"><col style="width:121.1px"><col style="width:121.1px"><col style="width:121.1px"><col style="width:121.1px"><col style="width:121.1px"><col style="width:121.1px"><col style="width:121.1px"></colgroup><tr style="height:49.6px"><td class="b" colspan="2">구 분</td><td class="b">읍·면·동장</td><td class="g">총 무</td><td class="g">시민복지</td><td class="g">맞춤형복지</td><td class="g">마을공동체</td><td class="g">출장민원</td><td class="g">농업상담실</td></tr><tr style="height:28.4px"><td class="b" rowspan="7">동</td><td class="b">교하동</td><td>황선구 820–7600</td><td>박동민 820–7601</td><td>정재현 820–7610</td><td>이정아 820–7620</td><td>김지희 820–7629</td><td>정혜선 820–7630</td><td>양소정 8356</td></tr><tr style="height:28.4px"><td class="b">운정1동</td><td>최영목 820–7700</td><td>서현동 820–7701</td><td>현명균 820–7710</td><td>조선예 820–7720</td><td>강선희 820–7730</td><td>–</td><td>–</td></tr><tr style="height:28.4px"><td class="b">운정2동</td><td>권예자 820–7740</td><td>민성필 820–7741</td><td>이선미 820–7750</td><td>이명수 820–7760</td><td>김선정 820–7739</td><td>–</td><td>–</td></tr><tr style="height:28.4px"><td class="b">운정3동</td><td>윤병렬 820–7650</td><td>오재석 820–7651</td><td>박정희 820–7660</td><td>김지연 820–7670</td><td>권나은 820–7689</td><td>김태익 820–7680</td><td>–</td></tr><tr style="height:28.4px"><td class="b">금촌1동</td><td>윤상기 8200</td><td>유정현 8205</td><td>안춘영 8204</td><td>정향숙 8567</td><td>김명기 8218</td><td>–</td><td>–</td></tr><tr style="height:28.4px"><td class="b">금촌2동</td><td>김영미 8220</td><td>이종내 8228</td><td>박은영 8238</td><td>박영희 8595</td><td>김대중 8219</td><td>–</td><td>–</td></tr><tr style="height:28.4px"><td class="b">금촌3동</td><td>이창우 8740</td><td>김태환 8748</td><td>문수진 8745</td><td>장현자 8757</td><td>정주연 5428</td><td>–</td><td>김민덕 8361</td></tr></table>
</body></html>
